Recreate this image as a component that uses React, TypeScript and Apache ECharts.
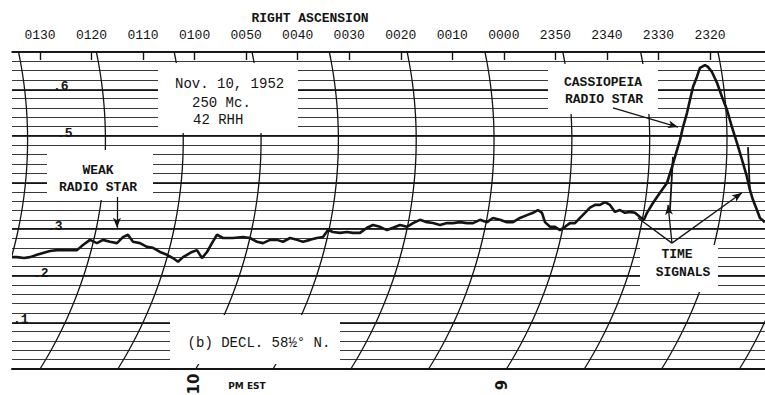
import React, { useEffect, useRef } from "react";
import * as echarts from "echarts";

// Pen trace: right ascension in minutes (0 = 00h00m, negative = 23h..), and recorder level
const traceRA = [
  95.43, 94.46, 93.1, 91.94, 90.58, 89.42, 88.06, 86.7, 84.76, 82.82, 81.66, 80.3, 78.94, 77.78,
  76.42, 75.06, 73.9, 72.93, 71.96, 70.6, 69.24, 68.08, 66.72, 65.36, 64.2, 63.22, 62.25, 60.51,
  59.54, 58.57, 57.6, 56.63, 55.66, 54.49, 52.55, 50.61, 49.26, 47.9, 46.73, 45.37, 44.02, 42.85,
  41.49, 40.14, 38.97, 37.61, 36.26, 35.09, 34.12, 33.15, 31.79, 30.43, 29.27, 27.91, 26.55, 25.39,
  24.03, 22.67, 21.51, 20.15, 18.79, 17.63, 16.27, 14.91, 13.75, 12.39, 11.03, 9.87, 8.51, 7.15,
  5.99, 4.63, 3.27, 2.11, 0.75, -0.61, -1.77, -3.13, -4.49, -5.65, -6.62, -7.4, -7.98, -8.95,
  -9.92, -10.89, -11.86, -12.83, -13.8, -14.77, -15.74, -16.71, -17.68, -18.65, -19.62, -20.59,
  -21.56, -22.53, -23.5, -24.47, -25.44, -26.41, -27.18, -27.77, -28.93, -30.29, -31.65, -32.62,
  -33.2, -34.17, -34.76, -35.53, -36.11, -36.7, -37.47, -38.05, -39.02, -39.6, -40.38, -41.35,
  -42.32, -43.29, -44.26, -45.23, -46.2, -47.17, -47.75, -48.33, -49.11, -49.69, -50.66,
];
const traceLevel = [
  0.24, 0.24, 0.238, 0.24, 0.245, 0.249, 0.253, 0.255, 0.255, 0.255, 0.266, 0.277, 0.27, 0.277,
  0.273, 0.27, 0.283, 0.288, 0.273, 0.27, 0.262, 0.26, 0.251, 0.245, 0.238, 0.23, 0.24, 0.251,
  0.255, 0.238, 0.251, 0.27, 0.288, 0.281, 0.281, 0.283, 0.281, 0.273, 0.27, 0.277, 0.277, 0.273,
  0.281, 0.277, 0.273, 0.277, 0.281, 0.283, 0.298, 0.294, 0.292, 0.294, 0.292, 0.292, 0.303, 0.309,
  0.305, 0.298, 0.303, 0.309, 0.305, 0.313, 0.32, 0.315, 0.313, 0.309, 0.313, 0.313, 0.315, 0.313,
  0.313, 0.32, 0.315, 0.324, 0.32, 0.315, 0.315, 0.324, 0.33, 0.335, 0.341, 0.335, 0.315, 0.305,
  0.305, 0.298, 0.305, 0.313, 0.313, 0.324, 0.335, 0.346, 0.352, 0.352, 0.358, 0.352,
  0.337, 0.341, 0.335, 0.337, 0.335, 0.326, 0.32, 0.335, 0.356, 0.378, 0.399, 0.433,
  0.455, 0.491, 0.519, 0.549, 0.577, 0.605, 0.627, 0.646, 0.652, 0.648, 0.637, 0.614,
  0.584, 0.556, 0.519, 0.485, 0.449, 0.412, 0.384, 0.363, 0.341, 0.324, 0.315,
];

// Right ascension ticks along the top (minutes)
const raTickValues = [90, 80, 70, 60, 50, 40, 30, 20, 10, 0, -10, -20, -30, -40];
// Level labels (index = tenths); .4 is hidden under the annotation in the original
const levelLabels = ["", ".1", ".2", ".3", "", ".5", ".6"];
// Curved time lines of the recorder paper, by RA where they meet the bottom edge
const timeLineRA = [105.1, 90, 74.9, 59.8, 44.8, 29.7, 14.6, -0.5, -15.6, -30.6, -45.7];

// Time-signal pen marks [start, end]
const timeSignalMarks = [
  [[-32.81, 0.455], [-32.23, 0.341]],
  [[-47.37, 0.476], [-47.75, 0.378]],
];
const weakArrow = [[75.06, 0.369], [75.06, 0.303]];
const cassArrow = [[-21.17, 0.56], [-33.79, 0.519]];
const signalVertex = [-32.62, 0.27];
const signalFeet = [[-26.02, 0.324, 0], [-31.85, 0.352, 1], [-46.2, 0.378, 1]];

const RA_MIN = -50.67;
const RA_MAX = 95.43;
const LV_MAX = 0.68;

const MONO = "'Liberation Mono', 'DejaVu Sans Mono', monospace";
const INK = "#141414";

function raText(v: number): string {
  const m = ((Math.round(v) % 1440) + 1440) % 1440;
  const h = Math.floor(m / 60);
  const mm = m % 60;
  return String(h).padStart(2, "0") + String(mm).padStart(2, "0");
}

const labelPad: Record<number, number> = { 1: 1, 2: 21, 3: 35, 4: 40, 5: 45, 6: 41 };

export default function App() {
  const ref = useRef<HTMLDivElement>(null);
  useEffect(() => {
    if (!ref.current) return;
    const chart = echarts.init(ref.current, undefined, { renderer: "svg" });

    const rich: Record<string, any> = {};
    for (let i = 1; i <= 6; i++) {
      rich["p" + i] = {
        fontFamily: MONO,
        fontSize: 13,
        fontWeight: "bold",
        color: INK,
        padding: [0, 0, 5, labelPad[i]],
      };
    }

    const arrowEnd = (c: number[]) => ({ coord: c, symbol: "arrow", symbolSize: [6, 10] });
    const plainEnd = (c: number[]) => ({ coord: c, symbol: "none" });

    const markData: any[] = [];
    markData.push([plainEnd(weakArrow[0]), arrowEnd(weakArrow[1])]);
    markData.push([plainEnd(cassArrow[0]), arrowEnd(cassArrow[1])]);
    signalFeet.forEach((f) => {
      const end = [f[0], f[1]];
      markData.push([plainEnd(signalVertex), f[2] ? arrowEnd(end) : plainEnd(end)]);
    });
    timeSignalMarks.forEach((m) => {
      markData.push([{ ...plainEnd(m[0]), lineStyle: { width: 1.8, color: INK } }, plainEnd(m[1])]);
    });

    const text = (t: string, x: number, y: number, opts: any = {}) => ({
      type: "text",
      x,
      y,
      z: 10,
      rotation: opts.rotation || 0,
      style: {
        text: t,
        fill: INK,
        font: opts.font || `14px ${MONO}`,
        textAlign: opts.align || "center",
        textVerticalAlign: "middle",
      },
    });
    const box = (x: number, y: number, w: number, h: number) => ({
      type: "rect",
      z: 2,
      shape: { x, y, width: w, height: h },
      style: { fill: "#ffffff", stroke: null },
    });

    chart.setOption({
      animation: false,
      backgroundColor: "#ffffff",
      grid: { left: 12, right: 0, top: 52, bottom: 26, outerBoundsMode: "none" },
      xAxis: [
        {
          type: "value",
          position: "top",
          inverse: true,
          min: RA_MIN,
          max: RA_MAX,
          axisLine: { show: true, onZero: false, lineStyle: { color: INK, width: 1.6 } },
          axisTick: {
            show: true,
            inside: true,
            length: 8,
            customValues: raTickValues,
            lineStyle: { color: INK, width: 1.4 },
          },
          axisLabel: {
            show: true,
            customValues: raTickValues,
            margin: 10,
            formatter: (v: number) => raText(v),
            fontFamily: MONO,
            fontSize: 13,
            color: INK,
          },
          splitLine: { show: false },
        },
        {
          type: "value",
          position: "bottom",
          inverse: true,
          min: RA_MIN,
          max: RA_MAX,
          axisLine: { show: true, onZero: false, lineStyle: { color: INK, width: 2 } },
          axisTick: { show: false },
          axisLabel: { show: false },
          splitLine: { show: false },
        },
      ],
      yAxis: [
        {
          type: "value",
          min: 0,
          max: LV_MAX,
          interval: 0.1,
          axisLine: { show: false },
          axisTick: { show: false },
          axisLabel: {
            inside: true,
            margin: 0,
            formatter: (v: number) => {
              const i = Math.round(v * 10);
              return levelLabels[i] ? `{p${i}|${levelLabels[i]}}` : "";
            },
            rich,
          },
          splitLine: { show: true, lineStyle: { color: INK, width: 2 } },
        },
        {
          type: "value",
          min: 0,
          max: LV_MAX,
          interval: 0.02,
          axisLine: { show: false },
          axisTick: { show: false },
          axisLabel: { show: false },
          splitLine: { show: true, lineStyle: { color: "#3a3a3a", width: 1.1 } },
        },
      ],
      series: [
        {
          type: "custom",
          z: 1,
          clip: true,
          silent: true,
          data: timeLineRA.map((r) => [r, 0]),
          renderItem: (params: any, api: any) => {
            const ra = api.value(0);
            const bottom = api.coord([ra, 0]);
            const top = api.coord([ra, LV_MAX]);
            const cy = api.coord([ra, 0.491])[1];
            const R = api.size([0, 0.929])[1];
            const dyB = bottom[1] - cy;
            const cx = bottom[0] - Math.sqrt(R * R - dyB * dyB);
            const pts: number[][] = [];
            for (let y = top[1]; y < bottom[1]; y += 3) {
              const dy = y - cy;
              pts.push([cx + Math.sqrt(R * R - dy * dy), y]);
            }
            pts.push([bottom[0], bottom[1]]);
            return {
              type: "polyline",
              shape: { points: pts },
              style: { stroke: INK, lineWidth: 1.3, fill: null },
            };
          },
        },
        {
          type: "line",
          z: 3,
          xAxisIndex: 0,
          yAxisIndex: 0,
          symbol: "none",
          data: traceRA.map((r, i) => [r, traceLevel[i]]),
          lineStyle: { color: INK, width: 2.6 },
          markLine: {
            silent: true,
            animation: false,
            symbol: ["none", "none"],
            label: { show: false },
            lineStyle: { color: INK, width: 1.3, type: "solid" },
            data: markData,
          },
        },
      ],
      graphic: [
        box(158, 63, 140, 70),
        box(47, 150, 106, 50),
        box(548, 64, 110, 50),
        box(640, 245, 78, 47),
        box(170, 315, 170, 49),
        text("RIGHT ASCENSION", 310, 18, { font: `bold 13px ${MONO}` }),
        text("Nov. 10, 1952", 175, 84, { align: "left" }),
        text("250 Mc.", 192, 103, { align: "left" }),
        text("42 RHH", 193, 120, { align: "left" }),
        text("WEAK", 98, 170, { font: `bold 13px ${MONO}` }),
        text("RADIO STAR", 98, 187, { font: `bold 13px ${MONO}` }),
        text("CASSIOPEIA", 603, 82, { font: `bold 13px ${MONO}` }),
        text("RADIO STAR", 604, 99, { font: `bold 13px ${MONO}` }),
        text("TIME", 677, 254, { font: `bold 13px ${MONO}` }),
        text("SIGNALS", 683, 272, { font: `bold 13px ${MONO}` }),
        text("(b) DECL. 58½° N.", 259, 343, {}),
        text("10", 194, 384, { font: `bold 15px 'DejaVu Sans'`, rotation: Math.PI / 2 }),
        text("PM EST", 247, 386, { font: `bold 9px 'DejaVu Sans'` }),
        text("9", 502, 385, { font: `bold 15px 'DejaVu Sans'`, rotation: Math.PI / 2 }),
      ],
    });
    return () => chart.dispose();
  }, []);
  return (
    <div
      ref={ref}
      style={{ position: "fixed", left: 0, top: 0, width: 765, height: 395, background: "#fff" }}
    />
  );
}
